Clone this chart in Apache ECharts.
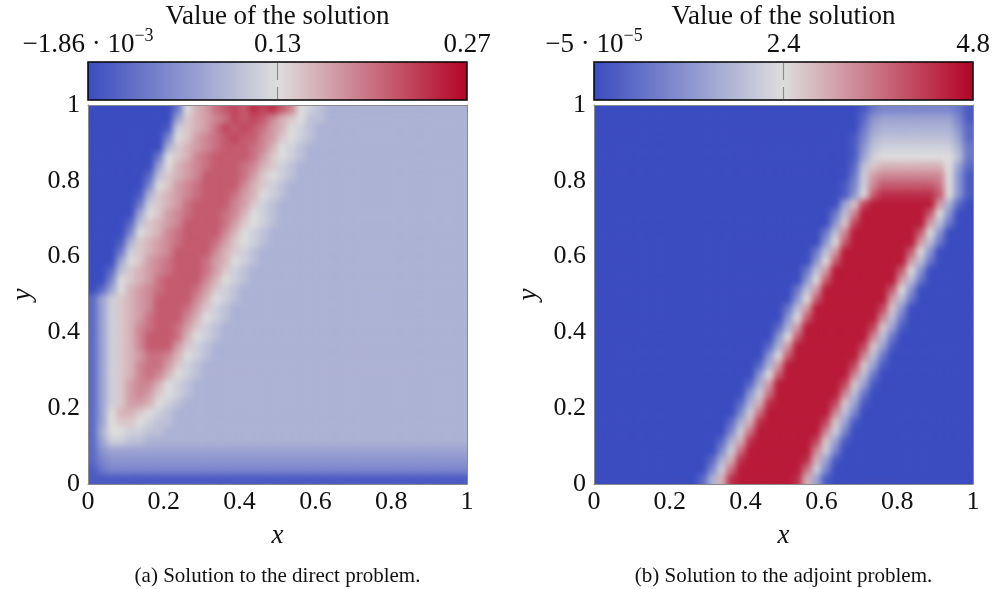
<!DOCTYPE html>
<html><head><meta charset="utf-8">
<script src="https://cdn.jsdelivr.net/npm/echarts@6/dist/echarts.min.js"></script>
<style>html,body{margin:0;padding:0;background:#fff}#c{width:994px;height:589px}</style>
</head><body>
<svg width="0" height="0" style="position:absolute">
  <filter id="soft" x="0" y="0" width="100%" height="100%" color-interpolation-filters="sRGB">
    <feGaussianBlur stdDeviation="3"/>
    <feComponentTransfer><feFuncA type="linear" slope="60" intercept="0"/></feComponentTransfer>
  </filter>
</svg>
<div id="c"></div>
<script>
// ---- data ----
const axisTicks = [0, 0.2, 0.4, 0.6, 0.8, 1];
const directRange = [-0.00186, 0.27];
const adjointRange = [-0.00005, 4.8];
const directBarLabels = [['−1.86 · 10', '−3'], ['0.13', ''], ['0.27', '']];
const adjointBarLabels = [['−5 · 10', '−5'], ['2.4', ''], ['4.8', '']];
const panelTitles = ['Value of the solution', 'Value of the solution'];
const captions = ['(a) Solution to the direct problem.', '(b) Solution to the adjoint problem.'];
// Field levels 0..20 (base-36 digits, 0 = min, k = max).
// Rows run from y = 1 (top) to y = 0 (bottom); 40 cells per row from x = 0 to x = 1.
const directRows = [
"0000000003 acdfghgihi gea9877777 7777777777",
"0000000006 bcdefhghge cba8877777 7777777777",
"0000000019 bcdfhghgfd ca98777777 7777777777",
"000000004a bdefghgged ba98777777 7777777777",
"000000007b cdefgggfec a987777777 7777777777",
"00000003ab cefggggfdb a987777777 7777777777",
"00000006ac defgggfecb 9877777777 7777777777",
"00000028bc deggggfdba 9877777777 7777777777",
"0000004abd efggggecb9 8777777777 7777777777",
"0000017bcd efgggfdca9 8777777777 7777777777",
"0000039bcd fggggedb98 7777777777 7777777777",
"000006abde fgggfeca98 7777777777 7777777777",
"000028bcde ggggfdba98 7777777777 7777777777",
"00004abcef ggggeca987 7777777777 7777777777",
"00017bcdef gggfdba987 7777777777 7777777777",
"00039bcdeg gggecb9877 7777777777 7777777777",
"0006abdefg ggfdca9877 7777777777 7777777777",
"0028bcdefg ggfdb98777 7777777777 7777777777",
"004abcdfgg ggeca98777 7777777777 7777777777",
"026acdefgg gfdb987777 7777777777 7777777777",
"269bcdeggg geca987777 7777777777 7777777777",
"269bcdeggg fdb9877777 7777777777 7777777777",
"269bcdfggg eca9877777 7777777777 7777777777",
"269bcefggf db98777777 7777777777 7777777777",
"269bcegggf ca98777777 7777777777 7777777777",
"269bcegggd b987777777 7777777777 7777777777",
"269bcdffec a987777777 7777777777 7777777777",
"269bceffdb 9877777777 7777777777 7777777777",
"269bcefeca 9877777777 7777777777 7777777777",
"269bdeeca9 8777777777 7777777777 7777777777",
"269bdedba9 8777777777 7777777777 7777777777",
"269bddca98 7777777777 7777777777 7777777777",
"26accba987 7777777777 7777777777 7777777777",
"26abba9887 7777777777 7777777777 7777777777",
"27aa998877 7777777777 7777777777 7777777777",
"2699887777 7777777777 7777777777 7777777777",
"2566666666 6666666666 6666666666 6666666666",
"2455555555 5555555555 5555555555 5555555555",
"1344444444 4444444444 4444444444 4444444444",
"1111111111 1111111111 1111111111 1111111111"
];
const adjointRows = [
"0000000000 0000000000 0000000013 4444444431",
"0000000000 0000000000 0000000025 6666666641",
"0000000000 0000000000 0000000036 7777777752",
"0000000000 0000000000 0000000147 8888888862",
"0000000000 0000000000 0000000158 9999999973",
"0000000000 0000000000 0000000169 aaaaaaaa83",
"0000000000 0000000000 000000028b ccccccca62",
"0000000000 0000000000 000000039d eeeeeeea51",
"0000000000 0000000000 000000149e ggggggfa51",
"0000000000 0000000000 00000015ag iiiiiiga51",
"0000000000 0000000000 0000006bhj jjjjjjd720",
"0000000000 0000000000 0000038ejj jjjjjga500",
"0000000000 0000000000 000005bhjj jjjjjd8300",
"0000000000 0000000000 000038ejjj jjjjga5000",
"0000000000 0000000000 00005agjjj jjjjd83000",
"0000000000 0000000000 00038djjjj jjjga50000",
"0000000000 0000000000 0005agjjjj jjjd830000",
"0000000000 0000000000 0038djjjjj jjga500000",
"0000000000 0000000000 005agjjjjj jjd8300000",
"0000000000 0000000000 038djjjjjj jga5000000",
"0000000000 0000000000 05agjjjjjj jd83000000",
"0000000000 0000000000 38djjjjjjj hb50000000",
"0000000000 0000000000 5agjjjjjjj e830000000",
"0000000000 0000000002 7djjjjjjjh b610000000",
"0000000000 0000000005 agjjjjjjje 8300000000",
"0000000000 0000000027 djjjjjjjhb 6100000000",
"0000000000 000000005a gjjjjjjje8 3000000000",
"0000000000 000000027d jjjjjjjhb6 1000000000",
"0000000000 00000005ag jjjjjjje83 0000000000",
"0000000000 00000027dj jjjjjjhb61 0000000000",
"0000000000 00000059fj jjjjjje830 0000000000",
"0000000000 0000027cij jjjjjhb610 0000000000",
"0000000000 0000049fjj jjjjje8400 0000000000",
"0000000000 000027cijj jjjjhb6100 0000000000",
"0000000000 000049fjjj jjjje94000 0000000000",
"0000000000 00027cijjj jjjhb61000 0000000000",
"0000000000 00049fjjjj jjje940000 0000000000",
"0000000000 0027cijjjj jjic610000 0000000000",
"0000000000 0049fjjjjj jjf9400000 0000000000",
"0000000000 027cijjjjj jic6100000 0000000000"
];
const coolWarm = ['#3b4cc0', '#dddddd', '#b40426'];

// ---- build ----
function toCells(rows, range) {
  const out = [];
  const n = rows.length;
  rows.forEach((row, r) => {
    const s = row.replace(/ /g, '');
    for (let i = 0; i < s.length; i++) {
      const lvl = parseInt(s[i], 36);
      out.push([i, n - 1 - r, range[0] + lvl / 20 * (range[1] - range[0])]);
    }
  });
  return out;
}
const nCols = directRows[0].replace(/ /g, '').length;
const cats = Array.from({length: nCols}, (_, i) => i);
const rowCats = Array.from({length: directRows.length}, (_, i) => i);

const FONT = "'Liberation Serif', 'DejaVu Serif', serif";
const INK = '#111';
const FRAME = '#8a8a8a';
const panels = [
  {x: 88, data: toCells(directRows, directRange), range: directRange, bar: directBarLabels},
  {x: 594, data: toCells(adjointRows, adjointRange), range: adjointRange, bar: adjointBarLabels}
];
const W = 379, TOP = 105, BAR_TOP = 62, BAR_H = 38;
const fmt = v => String(Math.round(v * 10) / 10);

const grids = [], xAxes = [], yAxes = [], series = [], visualMaps = [], graphics = [];
panels.forEach((p, k) => {
  grids.push({left: p.x, top: TOP, width: W, height: W, containLabel: false});
  xAxes.push({
    gridIndex: k, type: 'value', min: 0, max: 1, interval: 0.2, position: 'bottom', zlevel: 2, z: 6,
    axisLine: {show: true, lineStyle: {color: FRAME, width: 1}},
    axisTick: {show: false}, splitLine: {show: false},
    axisLabel: {fontFamily: FONT, fontSize: 26, color: INK, margin: 5, formatter: fmt},
    name: 'x', nameLocation: 'middle', nameGap: 38,
    nameTextStyle: {fontFamily: FONT, fontStyle: 'italic', fontSize: 27, color: INK}
  });
  xAxes.push({
    gridIndex: k, type: 'category', data: cats, position: 'top', zlevel: 2, z: 6,
    axisLine: {show: true, lineStyle: {color: FRAME, width: 1}},
    axisTick: {show: false}, axisLabel: {show: false}, splitLine: {show: false}
  });
  yAxes.push({
    gridIndex: k, type: 'value', min: 0, max: 1, interval: 0.2, position: 'left', zlevel: 2, z: 6,
    axisLine: {show: true, lineStyle: {color: FRAME, width: 1}},
    axisTick: {show: false}, splitLine: {show: false},
    axisLabel: {fontFamily: FONT, fontSize: 26, color: INK, margin: 8, formatter: fmt},
    name: 'y', nameLocation: 'middle', nameGap: 52, nameRotate: 90,
    nameTextStyle: {fontFamily: FONT, fontStyle: 'italic', fontSize: 27, color: INK}
  });
  yAxes.push({
    gridIndex: k, type: 'category', data: rowCats, position: 'right', zlevel: 2, z: 6,
    axisLine: {show: true, lineStyle: {color: FRAME, width: 1}},
    axisTick: {show: false}, axisLabel: {show: false}, splitLine: {show: false}
  });
  series.push({
    type: 'heatmap', xAxisIndex: 2 * k + 1, yAxisIndex: 2 * k + 1, zlevel: 1,
    data: p.data, progressive: 0, emphasis: {disabled: true}, itemStyle: {borderWidth: 0}
  });
  visualMaps.push({
    type: 'continuous', seriesIndex: k, dimension: 2, min: p.range[0], max: p.range[1],
    inRange: {color: coolWarm}, orient: 'horizontal', left: p.x, top: BAR_TOP,
    itemWidth: BAR_H, itemHeight: W, padding: 0, calculable: false, hoverLink: false,
    text: null, showLabel: false, show: true
  });
  const xm = p.x + W / 2;
  graphics.push(
    {type: 'rect', z: 20, shape: {x: p.x, y: BAR_TOP, width: W, height: BAR_H},
      style: {fill: null, stroke: '#000', lineWidth: 1.5}},
    {type: 'line', z: 20, shape: {x1: xm, y1: BAR_TOP + 1, x2: xm, y2: BAR_TOP + 18},
      style: {stroke: '#8c8c8c', lineWidth: 1.2}},
    {type: 'line', z: 20, shape: {x1: xm, y1: BAR_TOP + 25, x2: xm, y2: BAR_TOP + BAR_H - 1},
      style: {stroke: '#8c8c8c', lineWidth: 1.2}},
    {type: 'text', z: 20, x: xm, y: 17,
      style: {text: panelTitles[k], font: "27px " + FONT, fill: INK, textAlign: 'center', textVerticalAlign: 'middle'}}
  );
  [p.x, xm, p.x + W].forEach((lx, j) => {
    const lab = p.bar[j];
    const txt = lab[1] ? '{b|' + lab[0] + '}{s|' + lab[1] + '}' : '{b|' + lab[0] + '}';
    graphics.push({type: 'text', z: 20, x: lx, y: 45,
      style: {text: txt, textAlign: 'center', textVerticalAlign: 'middle', fill: INK,
        rich: {
          b: {fontFamily: FONT, fontSize: 27, lineHeight: 36, fill: INK, verticalAlign: 'middle'},
          s: {fontFamily: FONT, fontSize: 18, lineHeight: 18, fill: INK, verticalAlign: 'top'}
        }}});
  });
  graphics.push({type: 'text', z: 20, x: xm, y: 576,
    style: {text: captions[k], font: "21px " + FONT, fill: INK, textAlign: 'center', textVerticalAlign: 'middle'}});
});

const chart = echarts.init(document.getElementById('c'), null, {renderer: 'canvas'});
chart.setOption({
  animation: false,
  backgroundColor: '#ffffff',
  grid: grids, xAxis: xAxes, yAxis: yAxes,
  visualMap: visualMaps, series: series, graphic: graphics
});
// smooth the field layer like the shaded mesh of the original, clipped to the two plot areas
const layer = document.querySelector('#c canvas[data-zr-dom-id="zr_1"]');
if (layer) {
  layer.style.filter = 'url(#soft)';
  layer.style.clipPath = "path('M88 105H467V484H88Z M594 105H973V484H594Z')";
}
</script></body></html>
